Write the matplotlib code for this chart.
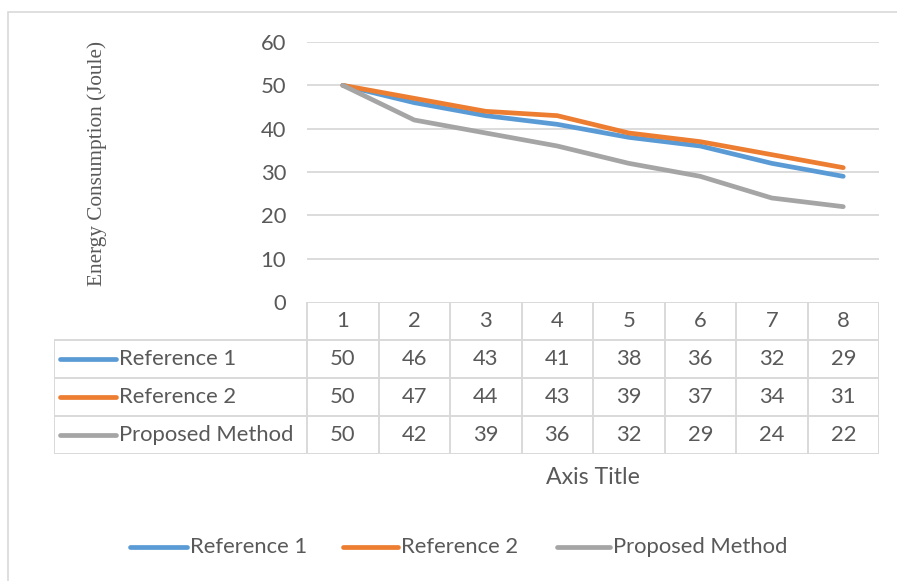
import matplotlib
matplotlib.use("Agg")
import matplotlib.pyplot as plt
from matplotlib.lines import Line2D
from matplotlib.patches import Rectangle

# ---- data ----
categories = [1, 2, 3, 4, 5, 6, 7, 8]
series_names = ["Reference 1", "Reference 2", "Proposed Method"]
reference_1 = [50, 46, 43, 41, 38, 36, 32, 29]
reference_2 = [50, 47, 44, 43, 39, 37, 34, 31]
proposed = [50, 42, 39, 36, 32, 29, 24, 22]
y_ticks = [0, 10, 20, 30, 40, 50, 60]

series_values = [reference_1, reference_2, proposed]
colors = ["#5B9BD5", "#ED7D31", "#A5A5A5"]

TEXT = "#595959"
GRID = "#D9D9D9"
FONT = "Lato"
FS = 15.8
LW = 3.4

W, H = 897, 581
fig = plt.figure(figsize=(W / 100, H / 100), dpi=100)


def fx(px):
    return px / W


def fy(py):
    return 1 - py / H


# chart frame
fig.patches.append(Rectangle((fx(8), fy(640)), fx(960) - fx(8), fy(12) - fy(640),
                             transform=fig.transFigure, fill=False,
                             edgecolor=GRID, linewidth=1.2, zorder=0))

# ---- plot area ----
left_px, right_px, top_px, bottom_px = 307, 879, 42, 302
ax = fig.add_axes([fx(left_px), fy(bottom_px), fx(right_px) - fx(left_px),
                   fy(top_px) - fy(bottom_px)])
ax.set_xlim(0.5, len(categories) + 0.5)
ax.set_ylim(y_ticks[0], y_ticks[-1])
for s in ax.spines.values():
    s.set_visible(False)
ax.set_xticks([])
ax.set_yticks(y_ticks)
ax.set_yticklabels([str(t) for t in y_ticks], fontsize=FS, color=TEXT, family=FONT)
ax.tick_params(axis="y", length=0, pad=15)
for t in y_ticks[1:]:
    ax.axhline(t, color=GRID, linewidth=1.3, zorder=1)

for name, vals, c in zip(series_names, series_values, colors):
    ax.plot(categories, vals, color=c, linewidth=LW, solid_capstyle="round",
            solid_joinstyle="round", zorder=3)

fig.text(fx(97), fy(163), "Energy Consumption (Joule)", rotation=90,
         ha="center", va="center", fontsize=15.3, color=TEXT,
         family="Liberation Serif")

# ---- data table ----
row_h = 38.0
tbl_top, tbl_left = 302, 54
col_w = (right_px - left_px) / len(categories)
n_rows = len(series_names) + 1
tax = fig.add_axes([fx(tbl_left), fy(tbl_top + row_h * n_rows),
                    fx(right_px) - fx(tbl_left), row_h * n_rows / H])
x_left = 0.5 - (left_px - tbl_left) / col_w
tax.set_xlim(x_left, len(categories) + 0.5)
tax.set_ylim(n_rows, 0)
tax.axis("off")

lk = dict(color=GRID, linewidth=1.4, solid_capstyle="butt")
# header row
tax.plot([0.5, len(categories) + 0.5], [0, 0], **lk)
for i in range(len(categories) + 1):
    tax.plot([0.5 + i, 0.5 + i], [0, n_rows], **lk)
tax.plot([x_left, x_left], [1, n_rows], **lk)
for r in range(1, n_rows + 1):
    tax.plot([x_left, len(categories) + 0.5], [r, r], **lk)

for j, c in enumerate(categories):
    tax.text(c, 0.5, str(c), ha="center", va="center", fontsize=FS,
             color=TEXT, family=FONT)

key_x0 = x_left + (60 - tbl_left) / col_w
key_x1 = x_left + (116 - tbl_left) / col_w
lab_x = x_left + (119 - tbl_left) / col_w
for r, (name, vals, c) in enumerate(zip(series_names, series_values, colors), start=1):
    tax.plot([key_x0, key_x1], [r + 0.5, r + 0.5], color=c, linewidth=LW,
             solid_capstyle="round")
    tax.text(lab_x, r + 0.5, name, ha="left", va="center", fontsize=FS,
             color=TEXT, family=FONT)
    for cat, v in zip(categories, vals):
        tax.text(cat, r + 0.5, str(v), ha="center", va="center", fontsize=FS,
                 color=TEXT, family=FONT)

# axis title
fig.text(fx(593), fy(477), "Axis Title", ha="center", va="center",
         fontsize=16.7, color=TEXT, family=FONT)

# ---- legend ----
leg_y = fy(547)
key_spans = [(130, 187), (343, 398), (557, 610)]
for (x0, x1), name, c in zip(key_spans, series_names, colors):
    fig.add_artist(Line2D([fx(x0), fx(x1)], [leg_y, leg_y], transform=fig.transFigure,
                          color=c, linewidth=LW, solid_capstyle="round"))
    fig.text(fx(x1 + 3), leg_y, name, ha="left", va="center", fontsize=FS,
             color=TEXT, family=FONT)

fig.savefig("out.png", dpi=100, facecolor="white")
